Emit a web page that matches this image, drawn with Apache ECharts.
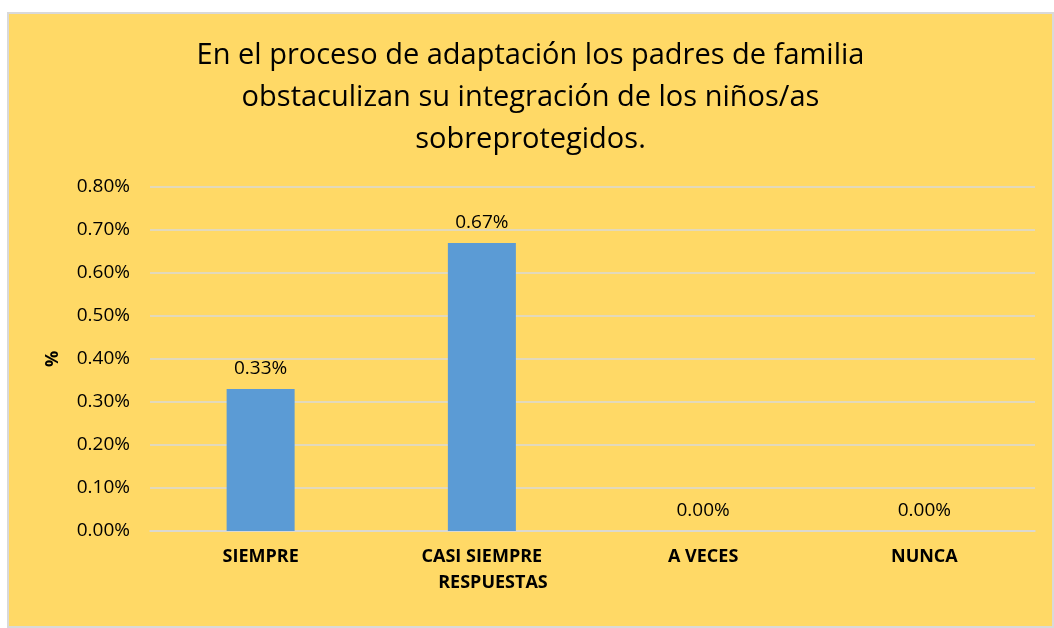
<!DOCTYPE html>
<html>
<head>
<meta charset="utf-8">
<script src="https://cdn.jsdelivr.net/npm/echarts@6/dist/echarts.min.js"></script>
<style>
    html, body { margin: 0; padding: 0; background: #fff; }
    #chart {
        position: absolute;
        left: 7px;
        top: 12px;
        width: 1043px;
        height: 612px;
        border: 2px solid #d9d9d9;
        background: #ffd966;
    }
</style>
</head>
<body>
<div id="chart"></div>
<script>
// datos (valores en %)
const categorias = ['SIEMPRE', 'CASI SIEMPRE', 'A VECES', 'NUNCA'];
const valores = [0.33, 0.67, 0.00, 0.00];
const titulo = 'En el proceso de adaptación los padres de familia\nobstaculizan su integración de los niños/as\nsobreprotegidos.';

const fuente = '"Open Sans", "Noto Sans", sans-serif';
let mychart = echarts.init(document.getElementById('chart'));

let option = {
    backgroundColor: '#ffd966',
    textStyle: { fontFamily: fuente },
    title: {
        text: titulo,
        left: 'center',
        top: 16,
        textStyle: {
            color: '#000',
            fontWeight: 'normal',
            fontSize: 29,
            lineHeight: 42,
            fontFamily: fuente
        }
    },
    grid: {
        left: 141,
        right: 17,
        top: 173,
        bottom: 95
    },
    xAxis: {
        type: 'category',
        data: categorias,
        axisLine: { lineStyle: { color: '#d9d9d9', width: 1.5 } },
        axisTick: { show: false },
        axisLabel: {
            color: '#000',
            fontWeight: 'bold',
            fontSize: 18,
            margin: 17,
            fontFamily: fuente
        }
    },
    yAxis: {
        type: 'value',
        min: 0,
        max: 0.8,
        interval: 0.1,
        name: '%',
        nameLocation: 'middle',
        nameGap: 88,
        nameRotate: 90,
        nameTextStyle: {
            color: '#000',
            fontWeight: 'bold',
            fontSize: 18,
            fontFamily: fuente
        },
        axisLine: { show: false },
        axisTick: { show: false },
        splitLine: { lineStyle: { color: '#d9d9d9', width: 1.5 } },
        axisLabel: {
            color: '#000',
            fontSize: 19,
            margin: 20,
            fontFamily: fuente,
            formatter: v => v.toFixed(2) + '%'
        }
    },
    graphic: [
        {
            type: 'text',
            x: 484,
            y: 569,
            style: {
                text: 'RESPUESTAS',
                fill: '#000',
                font: 'bold 18px ' + fuente,
                textAlign: 'center',
                textVerticalAlign: 'middle'
            }
        }
    ],
    series: [
        {
            type: 'bar',
            data: valores,
            barWidth: 68,
            itemStyle: { color: '#5b9bd5' },
            label: {
                show: true,
                position: 'top',
                distance: 11,
                color: '#000',
                fontSize: 19,
                fontFamily: fuente,
                formatter: p => p.value.toFixed(2) + '%'
            }
        }
    ]
};

mychart.setOption(option);
</script>
</body>
</html>
